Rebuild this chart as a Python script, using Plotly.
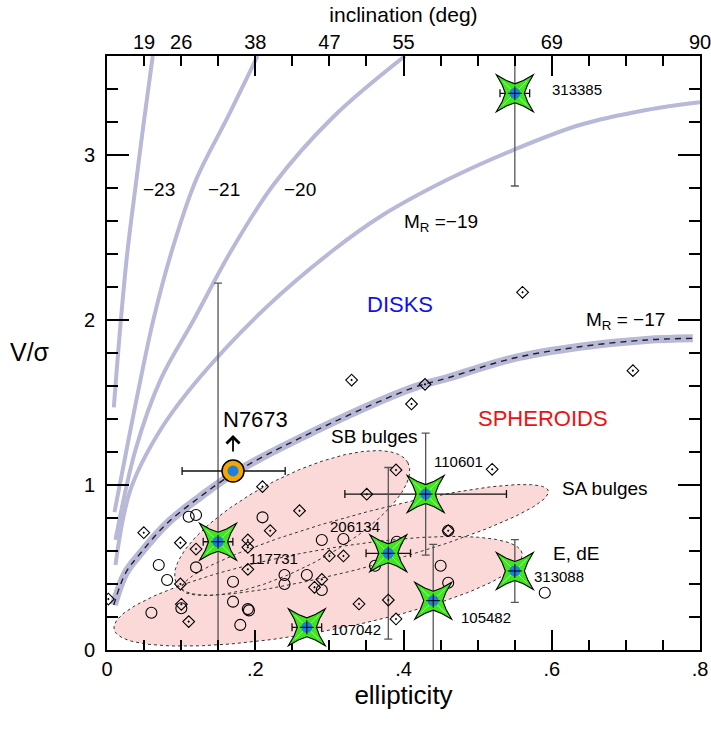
import numpy as np
import plotly.graph_objects as go

# ---------------- data ----------------
# model curves (ellipticity, V/sigma), one per absolute magnitude M_R
m23_eps = [0.0092, 0.0128, 0.0191, 0.0272, 0.0388, 0.0488, 0.0617]
m23_vs = [1.47, 1.68, 2.02, 2.40, 2.82, 3.17, 3.6]
m21_eps = [0.0101, 0.0263, 0.0451, 0.063, 0.0878, 0.1192, 0.164, 0.2031]
m21_vs = [0.836, 1.212, 1.636, 2.01, 2.424, 2.84, 3.24, 3.6]
m20_eps = [0.0114, 0.0384, 0.072, 0.1169, 0.1663, 0.2246, 0.3055, 0.402]
m20_vs = [0.667, 1.212, 1.636, 2.0, 2.41, 2.82, 3.232, 3.6]
m19_eps = [0.0114, 0.0316, 0.072, 0.1259, 0.2158, 0.3055, 0.3684, 0.4582,
           0.5479, 0.6377, 0.7275, 0.8]
m19_vs = [0.515, 0.97, 1.333, 1.656, 2.081, 2.424, 2.626, 2.848,
          3.03, 3.182, 3.273, 3.32]
m17_eps = [0.0092, 0.0249, 0.0451, 0.0811, 0.1259, 0.1708, 0.2606, 0.411,
           0.4582, 0.5479, 0.6377, 0.7275, 0.7903]
m17_vs = [0.273, 0.465, 0.586, 0.768, 0.929, 1.071, 1.285, 1.586,
          1.647, 1.768, 1.838, 1.879, 1.889]

# open circles
circ_eps = [0.1102, 0.1201, 0.2098, 0.2898, 0.3189, 0.0698, 0.0811, 0.1201,
            0.170, 0.2395, 0.2395, 0.2696, 0.2898, 0.170, 0.190, 0.1915,
            0.1003, 0.0599, 0.1798, 0.3909, 0.3616, 0.4501, 0.4603, 0.4603,
            0.5906]
circ_vs = [0.808, 0.818, 0.804, 0.667, 0.673, 0.515, 0.424, 0.501,
           0.414, 0.4545, 0.40, 0.4545, 0.364, 0.293, 0.248, 0.240,
           0.253, 0.226, 0.152, 0.656, 0.511, 0.511, 0.408, 0.723,
           0.347]

# dotted diamonds
diam_eps = [0.2098, 0.0496, 0.099, 0.1201, 0.190, 0.190, 0.2202, 0.2597,
            0.190, 0.099, 0.1003, 0.1102, 0.300, 0.319, 0.2898, 0.2799,
            0.0018, 0.3899, 0.3504, 0.5196, 0.4603, 0.340, 0.3795, 0.3899,
            0.330, 0.5606, 0.429, 0.4108, 0.7095]
diam_vs = [0.99, 0.711, 0.650, 0.612, 0.667, 0.622, 0.723, 0.844,
           0.489, 0.40, 0.277, 0.172, 0.570, 0.570, 0.428, 0.38,
           0.309, 1.091, 0.944, 1.095, 0.723, 0.279, 0.303, 0.188,
           1.636, 2.168, 1.61, 1.491, 1.693]

# star galaxies
star_names = ['313385', '110601', '206134', '117731', '107042', '105482', '313088']
star_eps = [0.5502, 0.4299, 0.3795, 0.1498, 0.2696, 0.4401, 0.5502]
star_vs = [3.374, 0.945, 0.586, 0.656, 0.1375, 0.299, 0.479]
star_ex = [0.020, 0.109, 0.030, 0.020, 0.020, 0.0, 0.012]
star_ey = [0.562, 0.370, 0.520, 1.568, 0.0, 0.341, 0.19]
star_lab_eps = [0.6343, 0.4741, 0.3347, 0.2242, 0.3354, 0.5111, 0.6094]
star_lab_vs = [3.394, 1.145, 0.747, 0.556, 0.125, 0.198, 0.444]

# N7673
n_eps = [0.170]
n_vs = [1.085]
n_ex_plus = [0.0704]
n_ex_minus = [0.0687]
n_arrow_top = [1.303]

# region ellipses: centre, semi-axes (ellipticity units), tilt (deg)
ell_eps_c = [0.2848, 0.3481, 0.2498]
ell_vs_c = [0.356, 0.667, 0.770]
ell_a = [0.280, 0.256, 0.176]
ell_b = [0.0545, 0.036, 0.061]
ell_ang = [10.5, 15, 27.5]

# text labels
lab_text = ['\u221223', '\u221221', '\u221220', 'M<sub>R</sub> =\u221219', 'DISKS',
            'M<sub>R</sub> = \u221217', 'SPHEROIDS', 'SB bulges', 'SA bulges',
            'E, dE', 'N7673']
lab_eps = [0.0698, 0.1582, 0.2597, 0.4503, 0.3946, 0.6994, 0.5880, 0.3612,
           0.6714, 0.6323, 0.2003]
lab_vs = [2.788, 2.788, 2.788, 2.59, 2.091, 1.996, 1.406, 1.293, 0.98,
          0.586, 1.394]
lab_size = [19, 19, 19, 19, 22, 19, 22, 19, 19, 19, 22]
lab_color = ['black', 'black', 'black', 'black', '#1010f0', 'black', '#f01010',
             'black', 'black', 'black', 'black']

# axes
x_tickvals = [0, 0.2, 0.4, 0.6, 0.8]
x_ticktext = ['0', '.2', '.4', '.6', '.8']
y_tickvals = [0, 1, 2, 3]
y_ticktext = ['0', '1', '2', '3']
incl_eps = [0.05, 0.1, 0.2, 0.3, 0.4, 0.6, 0.8]
incl_text = ['19', '26', '38', '47', '55', '69', '90']

# ---------------- styling ----------------
W, H = 711, 736
ML, MR, MT, MB = 107, 11, 56, 86
XR = [0, 0.8]
YR = [0, 3.6]
FONT = 'Liberation Sans, Arial, Helvetica, sans-serif'
PINK = '#fcd9d9'
LAV = '#b8b8d8'
GREEN = '#3ee61c'
BLUE = '#1d7fe0'
ORANGE = '#f7a600'

px_per_x = (W - ML - MR) / (XR[1] - XR[0])
px_per_y = (H - MT - MB) / (YR[1] - YR[0])
ratio = px_per_x / px_per_y

fig = go.Figure()

# ellipses: fills then outlines
t = np.linspace(0, 2 * np.pi, 240)
ell_paths = []
for ec, vc, a, b, ang in zip(ell_eps_c, ell_vs_c, ell_a, ell_b, ell_ang):
    th = np.radians(ang)
    ex = ec + a * np.cos(t) * np.cos(th) - b * np.sin(t) * np.sin(th)
    ey = vc + ratio * (a * np.cos(t) * np.sin(th) + b * np.sin(t) * np.cos(th))
    ell_paths.append((ex, ey))
for ex, ey in ell_paths:
    fig.add_trace(go.Scatter(x=ex, y=ey, mode='lines', fill='toself',
                             fillcolor=PINK, line=dict(width=0, color=PINK),
                             hoverinfo='skip', showlegend=False))
for ex, ey in ell_paths:
    fig.add_trace(go.Scatter(x=ex, y=ey, mode='lines',
                             line=dict(width=1, color='#333', dash='dot'),
                             hoverinfo='skip', showlegend=False))

# model curves
for ce, cv in [(m23_eps, m23_vs), (m21_eps, m21_vs), (m20_eps, m20_vs), (m19_eps, m19_vs)]:
    fig.add_trace(go.Scatter(x=ce, y=cv, mode='lines',
                             line=dict(color=LAV, width=4, shape='spline', smoothing=1.0),
                             hoverinfo='skip', showlegend=False))
fig.add_trace(go.Scatter(x=m17_eps, y=m17_vs, mode='lines',
                         line=dict(color=LAV, width=8, shape='spline', smoothing=1.0),
                         hoverinfo='skip', showlegend=False))
fig.add_trace(go.Scatter(x=m17_eps, y=m17_vs, mode='lines',
                         line=dict(color='#222', width=1.4, dash='6px,5px',
                                   shape='spline', smoothing=1.0),
                         hoverinfo='skip', showlegend=False))

# error bars of the stars
fig.add_trace(go.Scatter(x=star_eps, y=star_vs, mode='markers',
                         marker=dict(size=1, color='rgba(0,0,0,0)'),
                         error_x=dict(type='data', array=star_ex, color='#111',
                                      thickness=1.3, width=4),
                         error_y=dict(type='data', array=star_ey, color='#555',
                                      thickness=1.3, width=4),
                         hoverinfo='skip', showlegend=False))

# sample points
fig.add_trace(go.Scatter(x=circ_eps, y=circ_vs, mode='markers',
                         marker=dict(symbol='circle-open', size=11, color='black',
                                     line=dict(width=1.1)),
                         hoverinfo='skip', showlegend=False))
fig.add_trace(go.Scatter(x=diam_eps, y=diam_vs, mode='markers',
                         marker=dict(symbol='diamond-open-dot', size=9, color='black',
                                     line=dict(width=1.1)),
                         hoverinfo='skip', showlegend=False))

# N7673
fig.add_trace(go.Scatter(x=n_eps, y=n_vs, mode='markers',
                         marker=dict(symbol='circle', size=22, color=ORANGE,
                                     line=dict(width=1.5, color='black')),
                         error_x=dict(type='data', symmetric=False, array=n_ex_plus,
                                      arrayminus=n_ex_minus, color='#111',
                                      thickness=1.3, width=4),
                         hoverinfo='skip', showlegend=False))
fig.add_trace(go.Scatter(x=n_eps, y=n_vs, mode='markers',
                         marker=dict(symbol='circle', size=11, color=BLUE),
                         hoverinfo='skip', showlegend=False))

# invisible trace to activate the top axis
fig.add_trace(go.Scatter(x=[XR[0]], y=[YR[0]], xaxis='x2', mode='markers',
                         marker=dict(size=1, color='rgba(0,0,0,0)'),
                         hoverinfo='skip', showlegend=False))


# star glyph: four tapered arms (pixel geometry, polygon)
def star_path(tip=18.5, notch=9.5, bend=0.9):
    quarter = [(tip, tip), (tip * 0.46, notch + (tip - notch) * 0.46 - bend)]
    pts = []
    for k in range(4):
        ang = np.pi / 2 * k
        ca, sa = np.cos(ang), np.sin(ang)
        loc = [quarter[0], quarter[1], (0.0, notch), (-quarter[1][0], quarter[1][1])]
        for (px, py) in loc:
            pts.append((px * ca - py * sa, px * sa + py * ca))
    return 'M ' + ' L '.join(f'{p[0]:.2f},{p[1]:.2f}' for p in pts) + ' Z'


STAR_PATH = star_path()
GLINT_PATH = 'M 4,4 L 12,12 M -4,4 L -12,12 M -4,-4 L -12,-12 M 4,-4 L 12,-12'
shapes = []
for se, sv in zip(star_eps, star_vs):
    common = dict(xref='x', yref='y', xsizemode='pixel', ysizemode='pixel',
                  xanchor=se, yanchor=sv, layer='above')
    shapes.append(dict(type='path', path=STAR_PATH, fillcolor=GREEN,
                       line=dict(color='black', width=1.1), **common))
    shapes.append(dict(type='path', path=GLINT_PATH,
                       line=dict(color='rgba(230,255,225,0.8)', width=0.8), **common))
    shapes.append(dict(type='circle', x0=-5.5, x1=5.5, y0=-5.5, y1=5.5,
                       fillcolor=BLUE, line=dict(width=0), **common))
    shapes.append(dict(type='path', path='M -7,0 L 7,0 M 0,-7 L 0,7',
                       line=dict(color='black', width=1), **common))

annotations = []
for txt, le, lv, ls, lc in zip(lab_text, lab_eps, lab_vs, lab_size, lab_color):
    annotations.append(dict(x=le, y=lv, xref='x', yref='y', text=txt, showarrow=False,
                            font=dict(size=ls, color=lc, family=FONT)))
for nm, le, lv in zip(star_names, star_lab_eps, star_lab_vs):
    annotations.append(dict(x=le, y=lv, xref='x', yref='y', text=nm, showarrow=False,
                            font=dict(size=15, color='black', family=FONT)))
# upward arrow (lower limit) of N7673
annotations.append(dict(x=n_eps[0], y=n_arrow_top[0], ax=n_eps[0],
                        ay=n_vs[0] + 11 / px_per_y, xref='x', yref='y',
                        axref='x', ayref='y', text=' ', showarrow=True,
                        arrowhead=4, arrowsize=1.4, arrowwidth=1.8,
                        arrowcolor='black', standoff=0, startstandoff=0))
# y axis title
annotations.append(dict(x=0, y=1.806, xref='paper', yref='y', text='V/\u03c3',
                        showarrow=False, xanchor='center', xshift=-77,
                        font=dict(size=25, color='black', family=FONT)))

fig.update_layout(
    width=W, height=H,
    margin=dict(l=ML, r=MR, t=MT, b=MB, autoexpand=False),
    paper_bgcolor='white', plot_bgcolor='white',
    font=dict(family=FONT, color='black'),
    showlegend=False,
    xaxis=dict(range=XR, tickvals=x_tickvals, ticktext=x_ticktext,
               ticks='inside', ticklen=20, tickwidth=1.5, tickcolor='black',
               showline=True, linewidth=2, linecolor='black', mirror='ticks',
               showgrid=False, zeroline=False, tickfont=dict(size=20),
               ticklabelstandoff=0, automargin=False, ticklabeloverflow='allow',
               minor=dict(tick0=0, dtick=0.05, ticks='inside', ticklen=10,
                          tickwidth=1.5, tickcolor='black'),
               title=dict(text='ellipticity', font=dict(size=26), standoff=4)),
    yaxis=dict(range=YR, tickvals=y_tickvals, ticktext=y_ticktext,
               ticks='inside', ticklen=22, tickwidth=1.5, tickcolor='black',
               showline=True, linewidth=2, linecolor='black', mirror='ticks',
               showgrid=False, zeroline=False, tickfont=dict(size=20),
               ticklabelstandoff=6, automargin=False,
               minor=dict(tick0=0, dtick=0.2, ticks='inside', ticklen=11,
                          tickwidth=1.5, tickcolor='black')),
    xaxis2=dict(range=XR, overlaying='x', side='top', anchor='y',
                tickvals=incl_eps, ticktext=incl_text, ticks='',
                showline=False, showgrid=False, zeroline=False,
                tickfont=dict(size=20), ticklabelstandoff=2, automargin=False,
                ticklabeloverflow='allow',
                title=dict(text='inclination (deg)', font=dict(size=21), standoff=2)),
    shapes=shapes,
    annotations=annotations,
)

fig.write_html('out.html',
               config={'displayModeBar': False},
               post_script="document.body.style.margin='0px';"
                           "document.body.style.padding='0px';"
                           "document.documentElement.style.overflow='hidden';")
